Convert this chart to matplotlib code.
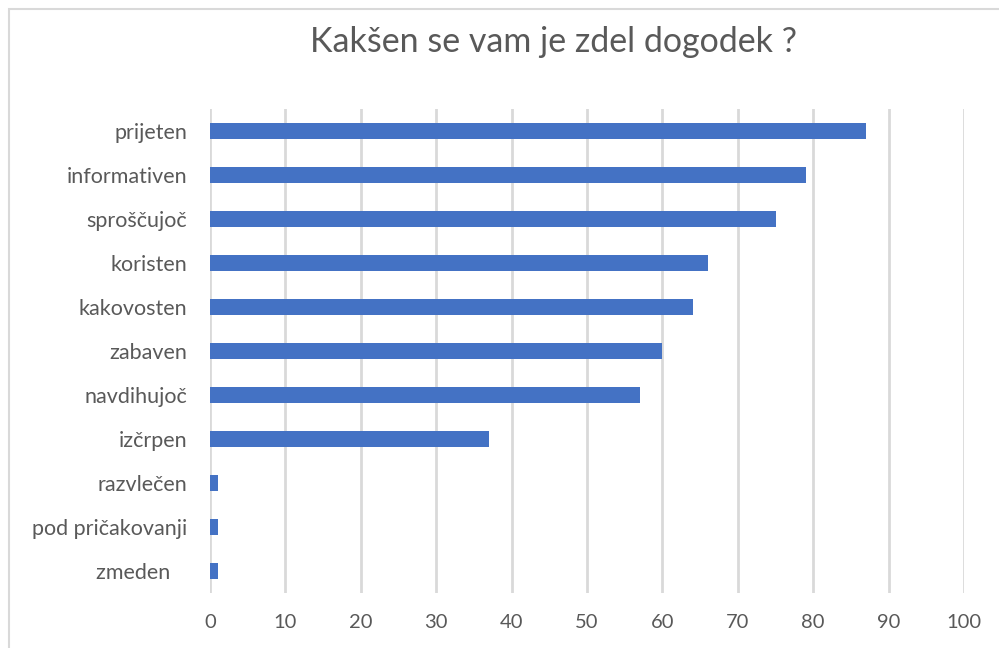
import matplotlib.pyplot as plt
from matplotlib.patches import Rectangle

# Data
categories = ['prijeten', 'informativen', 'sproščujoč', 'koristen', 'kakovosten',
              'zabaven', 'navdihujoč', 'izčrpen', 'razvlečen', 'pod pričakovanji',
              'zmeden   ']
values = [87, 79, 75, 66, 64, 60, 57, 37, 1, 1, 1]
xticks = [0, 10, 20, 30, 40, 50, 60, 70, 80, 90, 100]

plt.rcParams['font.family'] = ['Lato', 'DejaVu Sans']
text_color = '#595959'
grid_color = '#d9d9d9'

fig = plt.figure(figsize=(9.99, 6.48), dpi=100)
ax = fig.add_axes([210 / 999, 55 / 648, 754 / 999, 484 / 648])

ypos = list(range(len(categories)))
ax.barh(ypos, values, height=0.35, color='#4472C4', zorder=3)

ax.set_xlim(0, 100)
ax.set_ylim(len(categories) - 0.5, -0.5)
ax.set_xticks(xticks)
ax.set_xticklabels([str(t) for t in xticks])
ax.set_yticks(ypos)
ax.set_yticklabels(categories)

for x in xticks:
    ax.axvline(x, color=grid_color, lw=2, zorder=1)

for s in ax.spines.values():
    s.set_visible(False)
ax.tick_params(axis='both', length=0, colors=text_color)
ax.tick_params(axis='x', pad=15, labelsize=14.5)
ax.tick_params(axis='y', pad=16.5, labelsize=15.5)

fig.text(553 / 999, 1 - 42 / 648, 'Kakšen se vam je zdel dogodek ?',
         ha='center', va='center', fontsize=24.5, color=text_color)

# chart area border (cropped on right and bottom)
fig.patches.append(Rectangle((9 / 999, -0.1), 1.2, (648 - 9) / 648 + 0.1,
                             transform=fig.transFigure, fill=False,
                             edgecolor=grid_color, lw=1.5))

fig.savefig('out.png', dpi=100)
